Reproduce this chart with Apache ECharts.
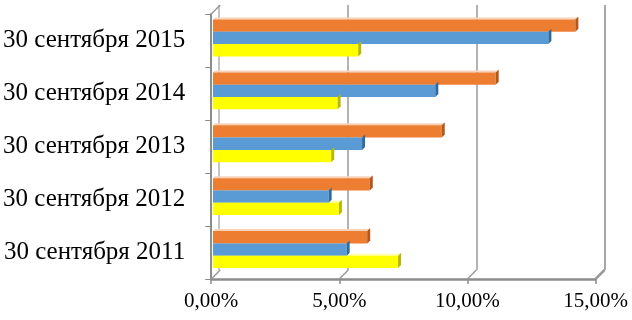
<!DOCTYPE html>
<html><head><meta charset="utf-8">
<script src="https://cdn.jsdelivr.net/npm/echarts@6/dist/echarts.min.js"></script>
<style>html,body{margin:0;padding:0;background:#fff}#c{width:632px;height:320px}</style>
</head><body><div id="c"></div>
<script>
const categories = ['30 сентября 2011','30 сентября 2012','30 сентября 2013','30 сентября 2014','30 сентября 2015'];
const seriesOrange = [6.0, 6.1, 8.9, 11.0, 14.1];
const seriesBlue   = [5.2, 4.5, 5.8, 8.65, 13.05];
const seriesYellow = [7.2, 4.9, 4.6, 4.85, 5.65];
const xTicks = [0, 5, 10, 15];

const allSeries = [seriesOrange, seriesBlue, seriesYellow];
const colors = ['#ED7D31', '#5B9BD5', '#FFFF00'];
const sideColors = ['#B4571A', '#2E6A9E', '#B8B800'];
const topColors = ['#F8D3BA', '#BDD7EE', '#FFFFA8'];
const BAR_H = 12.3;
const D = 3;
const GRAY = '#8c8c8c';

function faceSeries(s, kind) {
  return {
    type: 'custom', xAxisIndex: 2, yAxisIndex: 2, silent: true,
    z: kind === 'side' ? 4 : 1,
    data: allSeries[s].map((v, i) => [v, i]),
    renderItem: function (params, api) {
      const p = api.coord([api.value(0), api.value(1)]);
      const p0 = api.coord([0, api.value(1)]);
      const top = p[1] - 1.5 * BAR_H + s * BAR_H;
      const bottom = top + BAR_H;
      const t = 2;
      const pts = kind === 'side'
        ? [[p[0], top], [p[0] + D, top - D], [p[0] + D, bottom - D], [p[0], bottom]]
        : [[p0[0], top], [p0[0] + t, top - t], [p[0] + t, top - t], [p[0], top]];
      return { type: 'polygon', shape: { points: pts },
        style: { fill: kind === 'side' ? sideColors[s] : topColors[s] } };
    }
  };
}

// diagonal connectors from the front floor to the back wall
const connectorSeries = {
  type: 'custom', xAxisIndex: 0, yAxisIndex: 0, silent: true, z: 1,
  data: xTicks.map(v => [v, 0, 0]).concat([[0, categories.length - 1, 1]]),
  renderItem: function (params, api) {
    const half = api.size([0, 1])[1] / 2;
    const p = api.coord([api.value(0), api.value(1)]);
    const y = api.value(2) === 1 ? p[1] - half : p[1] + half;
    return { type: 'line', shape: { x1: p[0], y1: y, x2: p[0] + 9, y2: y - 9 },
      style: { stroke: '#9a9a9a', lineWidth: api.value(0) === 15 ? 2.5 : 1.5 } };
  }
};

const chart = echarts.init(document.getElementById('c'));
chart.setOption({
  animation: false,
  grid: [
    { left: 210, width: 385.5, top: 14, bottom: 41 },
    { left: 219, width: 386, top: 5, bottom: 50 },
    { left: 213, width: 385.5, top: 11.5, bottom: 44 }
  ],
  xAxis: [
    { gridIndex: 0, type: 'value', min: 0, max: 15, interval: 5,
      axisLine: { show: true, lineStyle: { color: GRAY, width: 2.5 } },
      axisTick: { show: true, length: 5, lineStyle: { color: GRAY, width: 1.5 } },
      splitLine: { show: false },
      axisLabel: { color: '#000', fontFamily: 'Liberation Serif', fontSize: 21, margin: 12,
        formatter: v => v.toFixed(2).replace('.', ',') + '%' } },
    { gridIndex: 1, type: 'value', min: 0, max: 15, interval: 5,
      axisLine: { show: false }, axisTick: { show: false }, axisLabel: { show: false },
      splitLine: { show: true, lineStyle: { color: ['#b0b0b0', '#9a9a9a', '#9a9a9a', '#8a8a8a'], width: 1.5 } } },
    { gridIndex: 2, type: 'value', min: 0, max: 15, show: false, splitLine: { show: false } }
  ],
  yAxis: [
    { gridIndex: 0, type: 'category', data: categories,
      axisLine: { show: true, lineStyle: { color: GRAY, width: 2 } },
      axisTick: { show: true, length: 6, lineStyle: { color: GRAY, width: 1 } },
      axisLabel: { color: '#000', fontFamily: 'Liberation Serif', fontSize: 25, margin: 26 } },
    { gridIndex: 1, type: 'category', data: categories, show: false },
    { gridIndex: 2, type: 'category', data: categories, show: false }
  ],
  series: [
    { type: 'bar', xAxisIndex: 2, yAxisIndex: 2, data: seriesOrange, barWidth: BAR_H, barGap: '0%', itemStyle: { color: colors[0] }, z: 2 },
    { type: 'bar', xAxisIndex: 2, yAxisIndex: 2, data: seriesBlue, barWidth: BAR_H, barGap: '0%', itemStyle: { color: colors[1] }, z: 2 },
    { type: 'bar', xAxisIndex: 2, yAxisIndex: 2, data: seriesYellow, barWidth: BAR_H, barGap: '0%', itemStyle: { color: colors[2] }, z: 2 },
    faceSeries(0, 'top'), faceSeries(1, 'top'), faceSeries(2, 'top'),
    faceSeries(0, 'side'), faceSeries(1, 'side'), faceSeries(2, 'side'),
    connectorSeries
  ]
});
</script></body></html>
